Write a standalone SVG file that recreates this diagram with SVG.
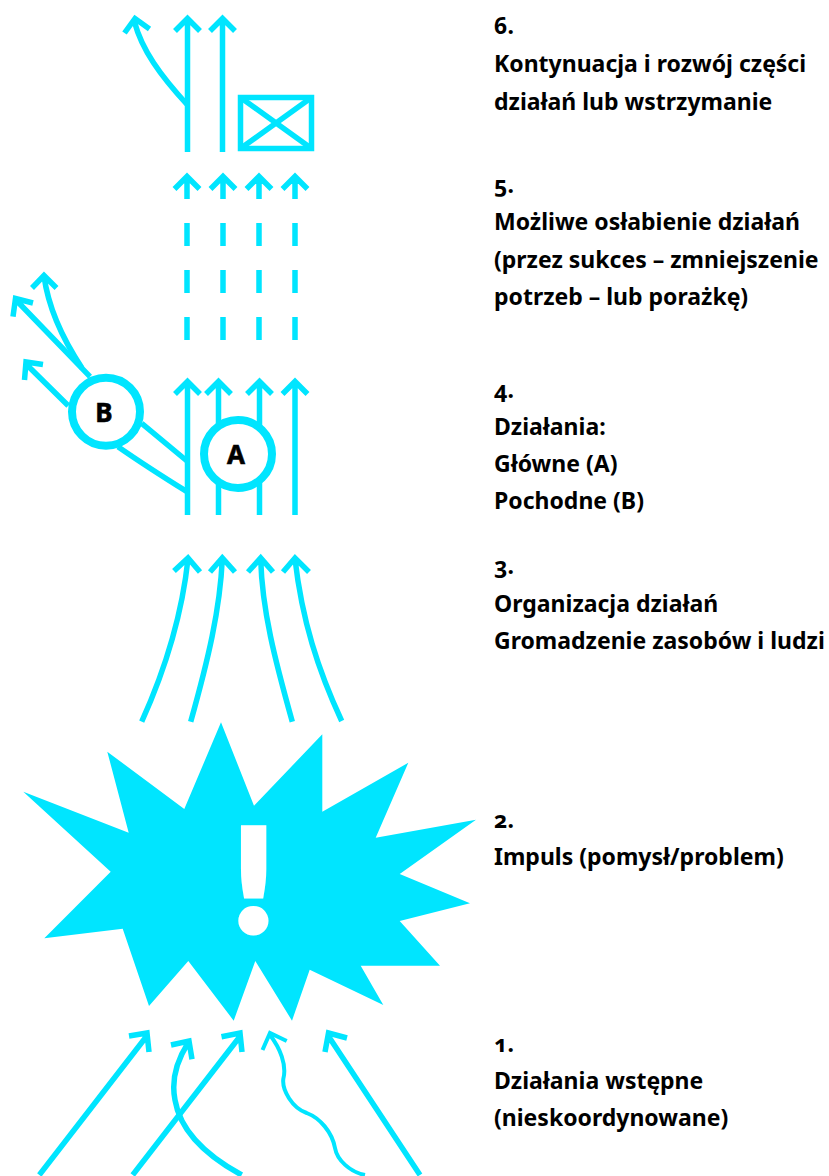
<svg xmlns="http://www.w3.org/2000/svg" width="829" height="1176" viewBox="0 0 829 1176">
<style>
.l{fill:none;stroke:#00e5ff;stroke-width:5.500}
.t{font:700 23px "Noto Sans","Liberation Sans",sans-serif;fill:#000;font-feature-settings:"onum"}
.c{fill:#fff;stroke:#00e5ff;stroke-width:8}
.n{font:700 26px "Noto Sans","Liberation Sans",sans-serif;fill:#000;stroke:#000;stroke-width:.6;text-anchor:middle}
</style>
<rect width="829" height="1176" fill="#fff"/>
<g id="connectors" class="l">
<path d="M187.500 105C160 75 142 50 134.500 22M124.500 33L135 18.500L149.500 29"/>
<path d="M187.500 152V18.500M175 31L187.500 18.500L200 31"/>
<path d="M222.500 152V18.500M210 31L222.500 18.500L235 31"/>
<path d="M187 199V176.500M174.500 189L187 176.500L199.500 189M223 199V176.500M210.500 189L223 176.500L235.500 189M259 199V176.500M246.500 189L259 176.500L271.500 189M295 199V176.500M282.500 189L295 176.500L307.500 189"/>
<path d="M187 223V246M187 270V293M187 317V340M223 223V246M223 270V293M223 317V340M259 223V246M259 270V293M259 317V340M295 223V246M295 270V293M295 317V340"/>
<path d="M187.500 515V381.500M175 394L187.500 381.500L200 394"/>
<path d="M218.500 515V381.500M206 394L218.500 381.500L231 394"/>
<path d="M259.500 515V381.500M247 394L259.500 381.500L272 394"/>
<path d="M295 515V381.500M282.500 394L295 381.500L307.500 394"/>
<path d="M141.700 423.300L187 461M118 446.700C140 462 165 478 187 491.700"/>
<path d="M68.300 405.700L26 364M43 364.500L26 362L24.500 380"/>
<path d="M90 376.700L16 300M33 303L15.500 298.500L13 316.700"/>
<path d="M82 368C60 335 48 305 44 276M32 288L44 275.500L56.500 288"/>
<path d="M141.700 721.700C165 670 182 615 188 559M174 571L188 558L200 572"/>
<path d="M190.700 721.700C208 660 220 610 222.300 559M210 572L222.300 558L235 572"/>
<path d="M292.300 721.700C275 660 262 610 260.700 559M248 572L260.700 558L273 572"/>
<path d="M341.700 721C318 670 302 620 295 559M283 572L295 558L309 572"/>
<path d="M39.300 1175L146 1037M129 1036L147 1033L149 1052"/>
<path d="M132.700 1175L239.500 1037M221.500 1036.700L240 1033L242 1052"/>
<path d="M241.700 1175C205 1155 180 1130 175 1100C171 1080 176 1062 188 1043M171 1045L189 1041L192 1059.300"/>
<path stroke-width="4" d="M365 1175C350 1172 337 1160 335 1148C332 1132 320 1118 306.700 1113C292 1108 282 1090 283.300 1079C287 1065 280 1048 270 1035M286.700 1041L270 1033L262.500 1050"/>
<path d="M420 1175L329 1037M347 1038L328.500 1033L325 1052"/>
</g>
<g id="node-box" class="l"><rect x="240.500" y="97.500" width="71" height="51"/><path d="M240.500 97.500L311.500 148.500M311.500 97.500L240.500 148.500"/></g>
<g id="node-b"><circle class="c" cx="106" cy="411.700" r="34"/><text class="n" x="104" y="421.500">B</text></g>
<g id="node-a"><circle class="c" cx="238" cy="454" r="34"/><text class="n" x="236" y="464">A</text></g>
<g id="node-impuls">
<polygon fill="#00e5ff" points="221,722.300 254,805.700 322.300,734.300 322.300,811.700 408.300,762.700 375.700,837.700 476,819.700 399.700,874 470,903.300 399.700,921 440,965.700 360.700,965.700 383.300,1005 309.700,969.700 292,1020.700 255.300,961 233.700,1020.700 188.300,961 149,1006 122.700,928.700 44.300,938.300 110.700,871.700 23.300,791.700 128.700,832.700 107.300,751.700 184.300,809"/>
<text x="253.500" y="931" font-family="Lato,'Liberation Sans',sans-serif" font-weight="900" font-size="142" fill="#fff" stroke="#fff" stroke-width="7" stroke-linejoin="miter" text-anchor="middle">!</text>
</g>
<g id="labels">
<text class="t" x="494" y="34">6.</text><text class="t" x="494" y="72">Kontynuacja i rozwój części</text><text class="t" x="494" y="110">działań lub wstrzymanie</text>
<text class="t" x="494" y="193">5.</text><text class="t" x="494" y="230">Możliwe osłabienie działań</text><text class="t" x="494" y="268">(przez sukces – zmniejszenie</text><text class="t" x="494" y="305">potrzeb – lub porażkę)</text>
<text class="t" x="494" y="398">4.</text><text class="t" x="494" y="435">Działania:</text><text class="t" x="494" y="472">Główne (A)</text><text class="t" x="494" y="509">Pochodne (B)</text>
<text class="t" x="494" y="574">3.</text><text class="t" x="494" y="612">Organizacja działań</text><text class="t" x="494" y="649">Gromadzenie zasobów i ludzi</text>
<text class="t" x="494" y="828">2.</text><text class="t" x="494" y="865">Impuls (pomysł/problem)</text>
<text class="t" x="494" y="1052">1.</text><text class="t" x="494" y="1089">Działania wstępne</text><text class="t" x="494" y="1126">(nieskoordynowane)</text>
</g>
</svg>
